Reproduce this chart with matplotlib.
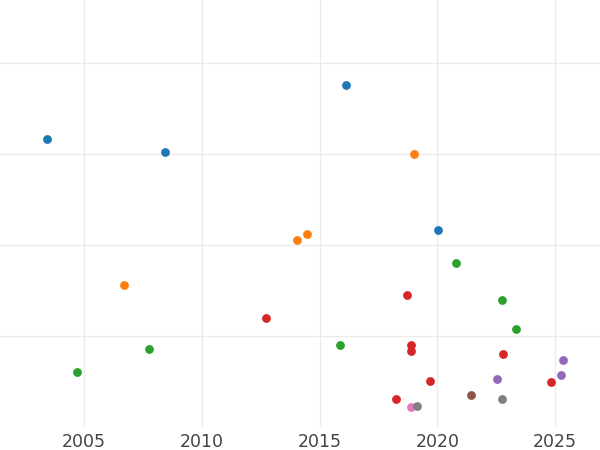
import matplotlib
matplotlib.use('Agg')
import matplotlib.pyplot as plt

# points per group: (year, value)
blue_x = [2003.42, 2008.44, 2016.11, 2020.03]
blue_y = [3.165, 3.022, 3.751, 2.162]

orange_x = [2006.70, 2014.04, 2014.48, 2019.03]
orange_y = [1.560, 2.055, 2.124, 3.000]

green_x = [2004.70, 2007.76, 2015.87, 2020.80, 2022.76, 2023.34]
green_y = [0.604, 0.860, 0.901, 1.802, 1.392, 1.077]

red_x = [2012.72, 2018.72, 2018.89, 2018.87, 2019.69, 2018.26, 2022.80, 2024.82]
red_y = [1.201, 1.454, 0.901, 0.835, 0.509, 0.308, 0.802, 0.495]

purple_x = [2022.54, 2025.33, 2025.27]
purple_y = [0.531, 0.736, 0.571]

brown_x = [2021.43]
brown_y = [0.352]

pink_x = [2018.87]
pink_y = [0.216]

gray_x = [2019.13, 2022.76]
gray_y = [0.231, 0.304]

groups = [
    (blue_x, blue_y, '#1f77b4'),
    (orange_x, orange_y, '#ff7f0e'),
    (green_x, green_y, '#2ca02c'),
    (red_x, red_y, '#d62728'),
    (purple_x, purple_y, '#9467bd'),
    (brown_x, brown_y, '#8c564b'),
    (pink_x, pink_y, '#e377c2'),
    (gray_x, gray_y, '#7f7f7f'),
]

fig = plt.figure(figsize=(6, 4.5), dpi=100)
ax = fig.add_axes([0, 23 / 450, 1, 427 / 450])

for xs, ys, c in groups:
    ax.scatter(xs, ys, s=40, color=c, linewidths=0, zorder=3)

ax.set_xlim(2001.43, 2026.91)
ax.set_ylim(0, 4.69)
ax.set_xticks([2005, 2010, 2015, 2020, 2025])
ax.set_yticks([1, 2, 3, 4])
ax.set_yticklabels([])
ax.grid(True, color='#ebebeb', linewidth=1.0, zorder=0)
ax.tick_params(axis='both', length=0)
ax.tick_params(axis='x', labelsize=12.5, labelcolor='#444444', pad=4)
for s in ax.spines.values():
    s.set_visible(False)

fig.savefig('out.png', dpi=100)
